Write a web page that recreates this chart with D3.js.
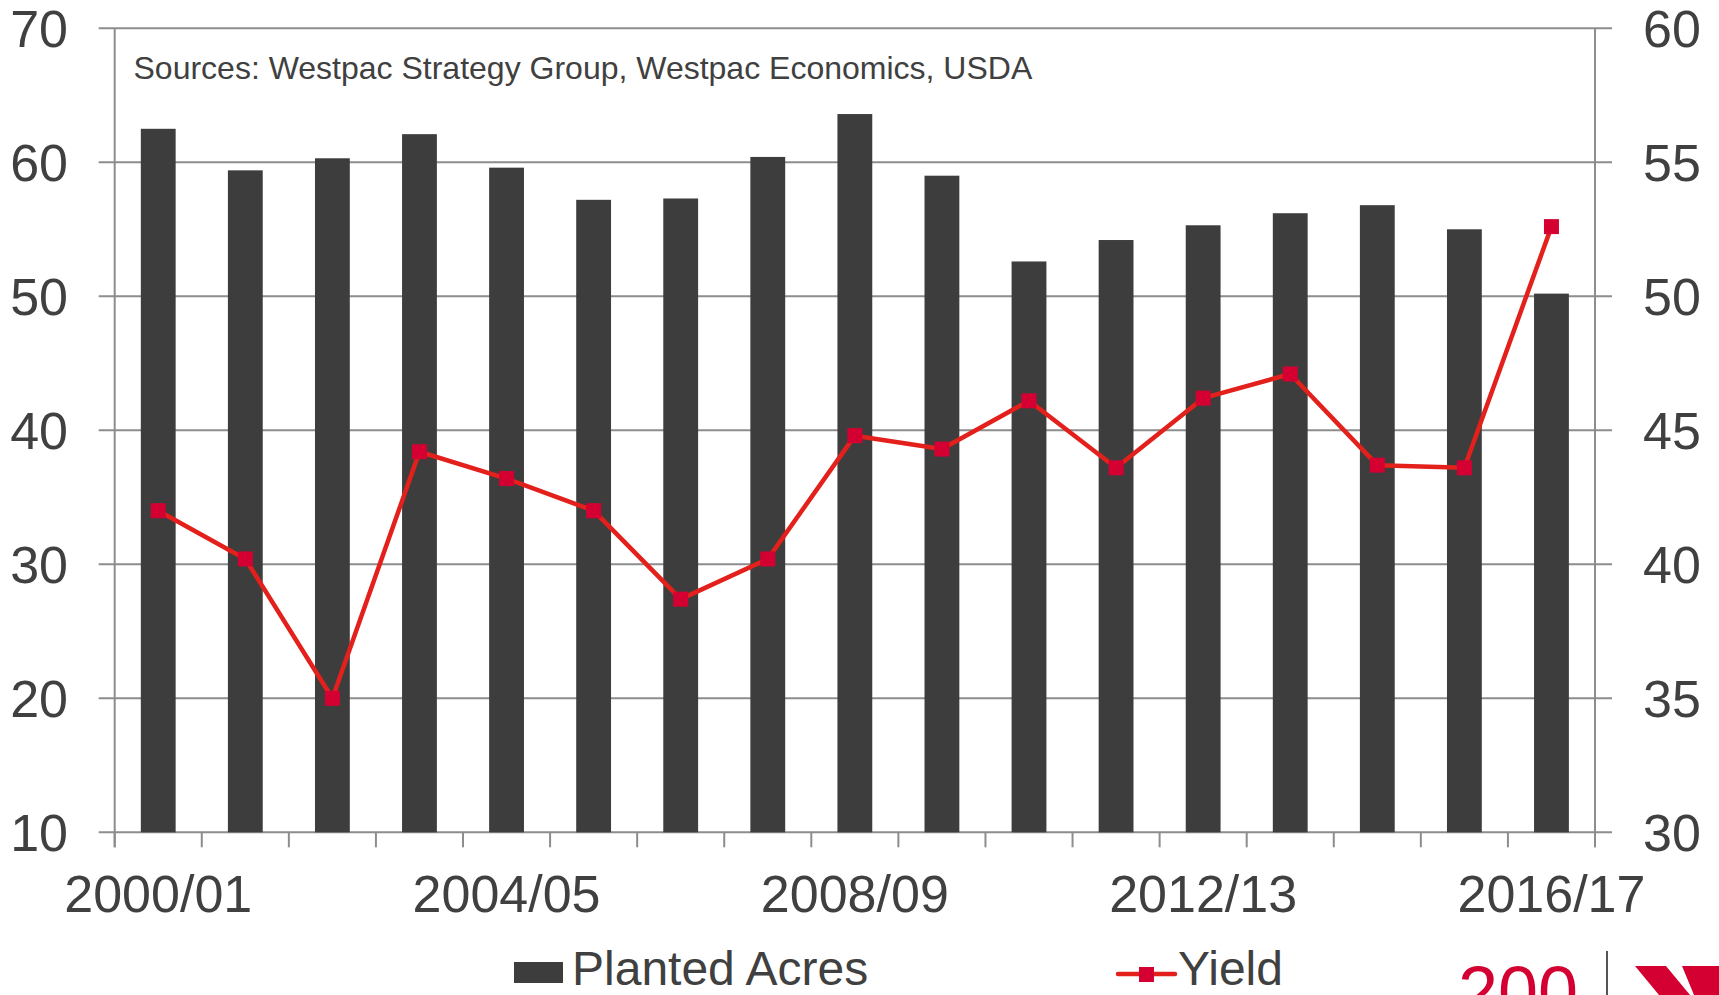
<!DOCTYPE html>
<html>
<head>
<meta charset="utf-8">
<script src="https://cdn.jsdelivr.net/npm/d3@7"></script>
<style>
  html, body { margin: 0; padding: 0; background: #fff; }
  svg { display: block; font-family: "Liberation Sans", Arial, sans-serif; }
</style>
</head>
<body>
<svg id="chart" width="1719" height="995"></svg>
<script>
// Marketing years, US wheat
const seasons = ["2000/01","2001/02","2002/03","2003/04","2004/05","2005/06","2006/07","2007/08",
                 "2008/09","2009/10","2010/11","2011/12","2012/13","2013/14","2014/15","2015/16","2016/17"];
// Planted acres (million acres) – left axis
const plantedAcres = [62.5, 59.4, 60.3, 62.1, 59.6, 57.2, 57.3, 60.4, 63.6, 59.0, 52.6, 54.2, 55.3, 56.2, 56.8, 55.0, 50.2];
// Yield (bushels per acre) – right axis
const yieldValues = [42.0, 40.2, 35.0, 44.2, 43.2, 42.0, 38.7, 40.2, 44.8, 44.3, 46.1, 43.6, 46.2, 47.1, 43.7, 43.6, 52.6];
const leftTicks = [10, 20, 30, 40, 50, 60, 70];
const rightTicks = [30, 35, 40, 45, 50, 55, 60];
const labelledSeasons = ["2000/01","2004/05","2008/09","2012/13","2016/17"];
const sourceNote = "Sources: Westpac Strategy Group, Westpac Economics, USDA";

const TEXT = "#404040", GRID = "#8d8d8d", BAR = "#3d3d3d", LINE = "#e3201b", MARK = "#d50032";
const plot = { left: 114.7, right: 1595, top: 28.3, bottom: 832.3 };

const svg = d3.select("#chart");

const x = d3.scaleBand().domain(seasons).range([plot.left, plot.right])
  .paddingInner(0.6).paddingOuter(0.3);
const yL = d3.scaleLinear().domain([10, 70]).range([plot.bottom, plot.top]);
const yR = d3.scaleLinear().domain([30, 60]).range([plot.bottom, plot.top]);

// Horizontal gridlines with outer tick stubs on both sides
svg.append("g").selectAll("line").data(leftTicks).join("line")
  .attr("x1", plot.left - 16).attr("x2", plot.right + 17)
  .attr("y1", d => yL(d)).attr("y2", d => yL(d))
  .attr("stroke", GRID).attr("stroke-width", 2);

// Vertical axis lines
svg.append("line").attr("x1", plot.left).attr("x2", plot.left)
  .attr("y1", plot.top).attr("y2", plot.bottom + 15).attr("stroke", GRID).attr("stroke-width", 2);
svg.append("line").attr("x1", plot.right).attr("x2", plot.right)
  .attr("y1", plot.top).attr("y2", plot.bottom + 15).attr("stroke", GRID).attr("stroke-width", 2);

// Category boundary ticks along the bottom
const step = x.step();
const bounds = d3.range(seasons.length + 1).map(i => plot.left + i * step);
svg.append("g").selectAll("line").data(bounds).join("line")
  .attr("x1", d => d).attr("x2", d => d)
  .attr("y1", plot.bottom).attr("y2", plot.bottom + 15)
  .attr("stroke", GRID).attr("stroke-width", 2);

// Left axis labels
svg.append("g").selectAll("text").data(leftTicks).join("text")
  .attr("x", 68).attr("y", d => yL(d)).attr("dy", "0.36em")
  .attr("text-anchor", "end").attr("font-size", 52).attr("fill", TEXT)
  .text(d => d);

// Right axis labels
svg.append("g").selectAll("text").data(rightTicks).join("text")
  .attr("x", 1643).attr("y", d => yR(d)).attr("dy", "0.36em")
  .attr("text-anchor", "start").attr("font-size", 52).attr("fill", TEXT)
  .text(d => d);

// Bottom category labels (every fourth season)
svg.append("g").selectAll("text").data(labelledSeasons).join("text")
  .attr("x", d => x(d) + x.bandwidth() / 2).attr("y", 912)
  .attr("text-anchor", "middle").attr("font-size", 52).attr("fill", TEXT)
  .text(d => d);

// Source note
svg.append("text").attr("x", 133.5).attr("y", 79)
  .attr("font-size", 32).attr("fill", TEXT).text(sourceNote);

// Planted acres bars
svg.append("g").selectAll("rect").data(seasons).join("rect")
  .attr("x", d => x(d)).attr("width", x.bandwidth())
  .attr("y", (d, i) => yL(plantedAcres[i]))
  .attr("height", (d, i) => yL(10) - yL(plantedAcres[i]))
  .attr("fill", BAR);

// Yield line with square markers
const cx = d => x(d) + x.bandwidth() / 2;
const line = d3.line().x((d, i) => cx(seasons[i])).y(d => yR(d));
svg.append("path").datum(yieldValues).attr("d", line)
  .attr("fill", "none").attr("stroke", LINE).attr("stroke-width", 4.5)
  .attr("stroke-linejoin", "round");
const M = 15;
svg.append("g").selectAll("rect").data(yieldValues).join("rect")
  .attr("x", (d, i) => cx(seasons[i]) - M / 2).attr("y", d => yR(d) - M / 2)
  .attr("width", M).attr("height", M).attr("fill", MARK);

// Legend
const lg = svg.append("g");
lg.append("rect").attr("x", 514).attr("y", 962).attr("width", 49).attr("height", 21).attr("fill", BAR);
lg.append("text").attr("x", 572).attr("y", 985).attr("font-size", 48).attr("fill", TEXT).text("Planted Acres");
lg.append("line").attr("x1", 1118).attr("x2", 1175).attr("y1", 974).attr("y2", 974)
  .attr("stroke", LINE).attr("stroke-width", 4.5).attr("stroke-linecap", "round");
lg.append("rect").attr("x", 1139).attr("y", 967).attr("width", 15).attr("height", 15).attr("fill", MARK);
lg.append("text").attr("x", 1178).attr("y", 985).attr("font-size", 48).attr("fill", TEXT).text("Yield");

// Corner brand mark
const brand = svg.append("g");
brand.append("text").attr("x", 1458).attr("y", 1017).attr("font-size", 72)
  .attr("fill", "#d50032").text("200");
brand.append("line").attr("x1", 1607).attr("x2", 1607).attr("y1", 951).attr("y2", 995)
  .attr("stroke", "#555").attr("stroke-width", 2);
brand.append("polygon").attr("points", "1635,966 1666,966 1690,995 1659,995").attr("fill", "#d50032");
brand.append("polygon").attr("points", "1682,966 1719,966 1719,995 1694,995").attr("fill", "#d50032");
</script>
</body>
</html>
